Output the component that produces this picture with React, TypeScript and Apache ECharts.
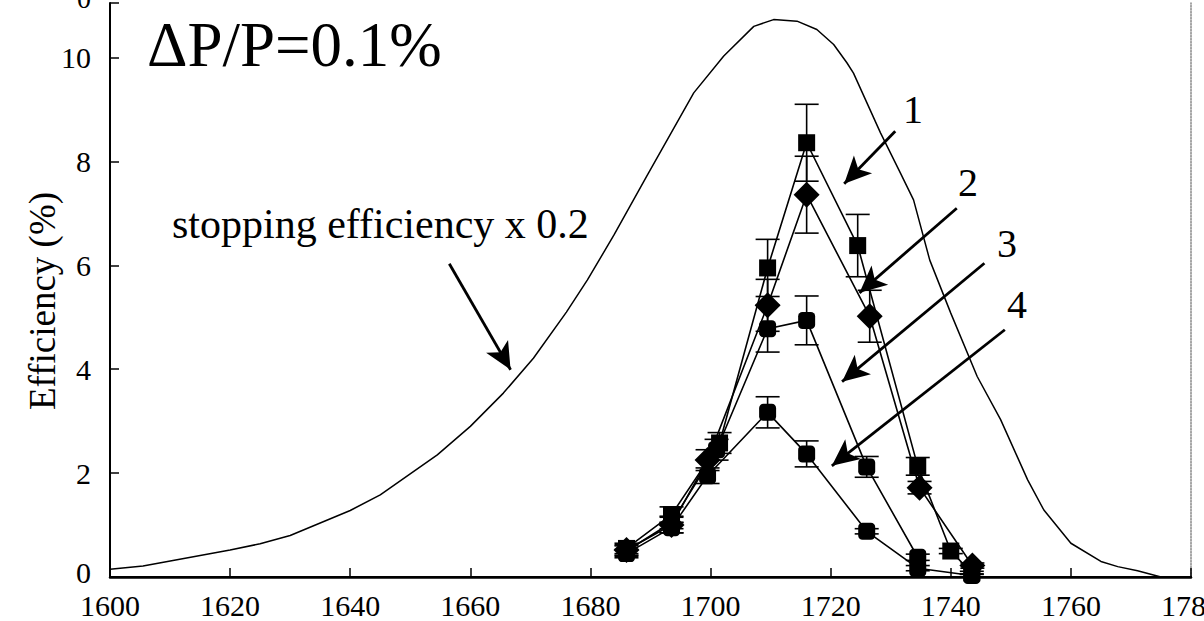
import React, { useEffect, useRef } from "react";
import * as echarts from "echarts";

const FONT = "Liberation Serif";

// Stopping efficiency, already scaled by 0.2
const stopX = [1600, 1605.5, 1620, 1625, 1630, 1640, 1645, 1654.5, 1660, 1665.5, 1670.5, 1676, 1679.5, 1683.9, 1689.4, 1697.2, 1702.2, 1707.2, 1710.5, 1714.4, 1717.7, 1720.5, 1722.7, 1723.8, 1728.3, 1731.6, 1733.8, 1736.5, 1740, 1744.4, 1748.3, 1752.8, 1755.5, 1760, 1765, 1767.8, 1771.1, 1775];
const stopY = [0.15, 0.21, 0.52, 0.64, 0.8, 1.28, 1.58, 2.35, 2.9, 3.54, 4.21, 5.1, 5.72, 6.58, 7.72, 9.32, 10.03, 10.6, 10.73, 10.7, 10.54, 10.25, 9.9, 9.7, 8.55, 7.78, 7.26, 6.1, 5.08, 3.86, 3.03, 1.87, 1.29, 0.65, 0.3, 0.2, 0.12, 0.0];

// Curve 1 (squares)
const s1X = [1686, 1693.5, 1701.5, 1709.5, 1716, 1724.5, 1734.5, 1740, 1743.5];
const s1Y = [0.55, 1.2, 2.58, 5.95, 8.36, 6.38, 2.13, 0.5, 0.08];
const s1Err = [0.1, 0.15, 0.2, 0.55, 0.74, 0.6, 0.17, 0.05, 0.03];

// Curve 2 (diamonds)
const s2X = [1686, 1693.5, 1699.5, 1709.5, 1716, 1726.5, 1734.8, 1743.6];
const s2Y = [0.52, 1.0, 2.25, 5.23, 7.36, 5.02, 1.72, 0.22];
const s2Err = [0.1, 0.15, 0.2, 0.5, 0.74, 0.5, 0.12, 0.05];

// Curve 3
const s3X = [1686, 1693.5, 1701, 1709.5, 1716, 1726, 1734.5];
const s3Y = [0.5, 1.05, 2.45, 4.78, 4.94, 2.12, 0.38];
const s3Err = [0.1, 0.12, 0.2, 0.45, 0.47, 0.2, 0.06];

// Curve 4
const s4X = [1686, 1693.5, 1699.5, 1709.5, 1716, 1726, 1734.5, 1743.5];
const s4Y = [0.45, 0.95, 1.95, 3.17, 2.37, 0.88, 0.17, 0.03];
const s4Err = [0.08, 0.1, 0.15, 0.3, 0.25, 0.05, 0.05, 0.03];

// Annotation arrows in data units (tail -> tip)
const arrowTailX = [1730.75, 1741.0, 1745.6, 1749.0, 1656.5];
const arrowTailY = [8.58, 7.1, 6.04, 4.76, 6.03];
const arrowTipX = [1722.25, 1724.8, 1721.9, 1720.2, 1666.7];
const arrowTipY = [7.57, 5.47, 3.76, 2.14, 3.99];

const zip = (xs: number[], ys: number[]) => xs.map((x, i) => [x, ys[i]]);

function errorBars(xs: number[], ys: number[], es: number[]) {
  return {
    type: "custom",
    silent: true,
    z: 2,
    encode: { x: 0, y: [1, 2] },
    data: xs.map((x, i) => [x, Math.max(0, ys[i] - es[i]), ys[i] + es[i]]),
    renderItem: (_params: any, api: any) => {
      const x = api.value(0);
      const lo = api.coord([x, api.value(1)]);
      const hi = api.coord([x, api.value(2)]);
      const hw = 12;
      const style = { stroke: "#000", lineWidth: 1.6 };
      return {
        type: "group",
        children: [
          { type: "line", shape: { x1: lo[0], y1: lo[1], x2: hi[0], y2: hi[1] }, style },
          { type: "line", shape: { x1: lo[0] - hw, y1: lo[1], x2: lo[0] + hw, y2: lo[1] }, style },
          { type: "line", shape: { x1: hi[0] - hw, y1: hi[1], x2: hi[0] + hw, y2: hi[1] }, style },
        ],
      };
    },
  };
}

function markerLine(xs: number[], ys: number[], symbol: string, size: number | number[]) {
  return {
    type: "line",
    data: zip(xs, ys),
    symbol,
    symbolSize: size,
    showAllSymbol: true,
    z: 3,
    lineStyle: { color: "#000", width: 1.6 },
    itemStyle: { color: "#000", borderWidth: 0 },
  };
}

function label(text: string, x: number, y: number, size: number, extra: any = {}) {
  return {
    type: "text",
    x,
    y,
    ...extra,
    style: {
      text,
      fontFamily: FONT,
      fontSize: size,
      fill: "#000",
      align: extra.align || "center",
      verticalAlign: "middle",
    },
  };
}

const Y_MAX = 11.05;

const option: any = {
  animation: false,
  backgroundColor: "#fff",
  grid: { left: 110, right: 13, top: 3, bottom: 44, outerBoundsMode: "none", containLabel: false },
  xAxis: [
    {
      type: "value",
      min: 1600,
      max: 1780,
      interval: 20,
      axisLine: { lineStyle: { color: "#000", width: 2 } },
      axisTick: { inside: true, length: 9, lineStyle: { color: "#000", width: 1.5 } },
      axisLabel: {
        color: "#000",
        fontFamily: FONT,
        fontSize: 30,
        margin: 13,
        formatter: (v: number) => String(v),
      },
      splitLine: { show: false },
    },
    {
      type: "value",
      position: "top",
      min: 1600,
      max: 1780,
      axisLine: { show: true, lineStyle: { color: "#000", width: 2.5 } },
      axisTick: { show: false },
      axisLabel: { show: false },
      splitLine: { show: false },
    },
  ],
  yAxis: [
    {
      type: "value",
      min: 0,
      max: Y_MAX,
      interval: 2,
      axisLine: { show: true, lineStyle: { color: "#000", width: 2 } },
      axisTick: { inside: true, length: 9, lineStyle: { color: "#000", width: 1.5 } },
      axisLabel: {
        color: "#000",
        fontFamily: FONT,
        fontSize: 30,
        margin: 19,
        formatter: (v: number) => (v === 0 ? "{z|0}" : Math.abs(v % 2) < 1e-9 ? String(v) : ""),
        rich: { z: { fontFamily: FONT, fontSize: 30, color: "#000", padding: [0, 0, 10, 0] } },
      },
      splitLine: { show: false },
    },
    {
      type: "value",
      position: "right",
      min: 0,
      max: Y_MAX,
      axisLine: { show: true, lineStyle: { color: "#888", width: 1.5, type: "dotted" } },
      axisTick: { show: false },
      axisLabel: { show: false },
      splitLine: { show: false },
    },
  ],
  series: [
    {
      type: "line",
      data: zip(stopX, stopY),
      symbol: "none",
      z: 1,
      lineStyle: { color: "#000", width: 1.5 },
      markLine: {
        silent: true,
        symbol: ["none", "arrow"],
        symbolSize: [19, 27],
        label: { show: false },
        lineStyle: { color: "#000", width: 2.8, type: "solid" },
        itemStyle: { color: "#000" },
        data: arrowTailX.map((x, i) => [
          { coord: [x, arrowTailY[i]] },
          { coord: [arrowTipX[i], arrowTipY[i]] },
        ]),
      },
    },
    errorBars(s1X, s1Y, s1Err),
    errorBars(s2X, s2Y, s2Err),
    errorBars(s3X, s3Y, s3Err),
    errorBars(s4X, s4Y, s4Err),
    markerLine(s1X, s1Y, "rect", 17),
    markerLine(s2X, s2Y, "diamond", [26, 26]),
    markerLine(s3X, s3Y, "roundRect", 17),
    markerLine(s4X, s4Y, "roundRect", 17),
  ],
  graphic: [
    label("0", 84, -1.5, 28),
    label("Efficiency (%)", 42, 301, 37, { rotation: Math.PI / 2 }),
    label("\u0394P/P=0.1%", 147, 45, 63, { align: "left" }),
    label("stopping efficiency x 0.2", 172, 224, 42, { align: "left" }),
    label("1", 913, 109, 40),
    label("2", 968, 182, 40),
    label("3", 1007, 243, 40),
    label("4", 1017, 304, 40),
  ],
};

export default function App() {
  const ref = useRef<HTMLDivElement>(null);
  useEffect(() => {
    if (!ref.current) return;
    const chart = echarts.init(ref.current, null, { renderer: "svg" });
    chart.setOption(option);
    return () => chart.dispose();
  }, []);
  return (
    <div
      ref={ref}
      style={{ position: "absolute", left: 0, top: 0, width: 1204, height: 621, background: "#fff" }}
    />
  );
}
